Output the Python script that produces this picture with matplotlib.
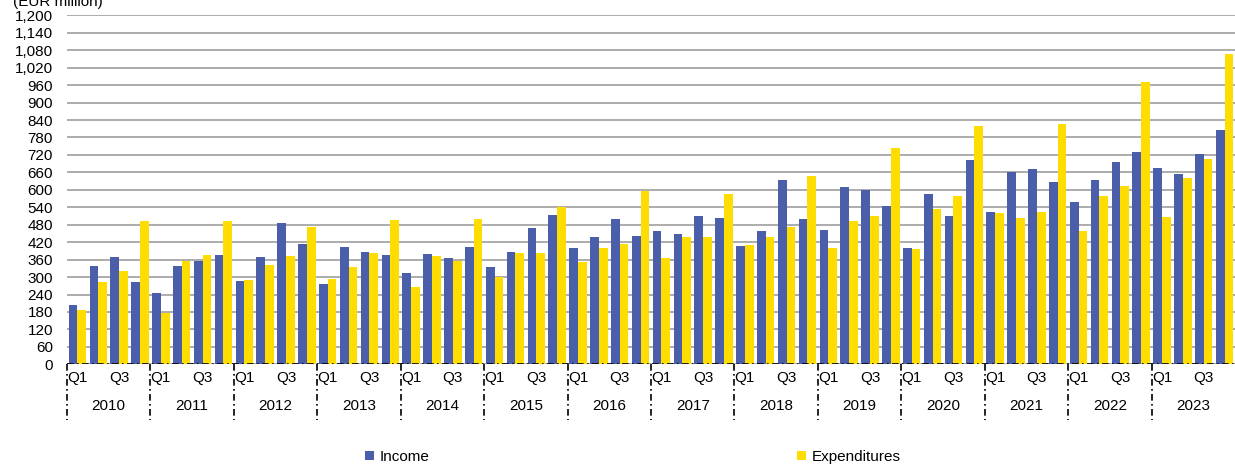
import numpy as np
import matplotlib.pyplot as plt
from matplotlib.patches import Patch

plt.rcParams['font.family'] = ['Liberation Sans', 'DejaVu Sans']

# data (EUR million), quarterly 2010 Q1 .. 2023 Q4
years = [str(y) for y in range(2010, 2024)]
quarter_labels = ['Q1', '', 'Q3', '']

income = [
    203, 338, 369, 283,   # 2010
    244, 338, 356, 376,   # 2011
    288, 368, 485, 414,   # 2012
    276, 402, 387, 375,   # 2013
    313, 378, 364, 402,   # 2014
    334, 385, 468, 512,   # 2015
    399, 439, 499, 442,   # 2016
    457, 447, 509, 502,   # 2017
    407, 460, 634, 499,   # 2018
    463, 609, 599, 543,   # 2019
    401, 587, 511, 701,   # 2020
    523, 660, 672, 626,   # 2021
    557, 634, 697, 730,   # 2022
    674, 654, 722, 806,   # 2023
]
expenditures = [
    187, 284, 322, 492,
    178, 355, 377, 492,
    290, 342, 372, 472,
    293, 336, 383, 496,
    266, 371, 355, 499,
    299, 382, 382, 541,
    352, 399, 413, 595,
    366, 437, 439, 586,
    411, 439, 472, 648,
    400, 493, 510, 744,
    397, 533, 578, 818,
    519, 503, 524, 826,
    458, 578, 613, 970,
    508, 642, 705, 1066,
]

BLUE = "#4b5eaa"
YELLOW = "#ffdd00"
FS = 11

fig = plt.figure(figsize=(12.35, 4.65), dpi=100)
ax = fig.add_axes([67 / 1235, 100.7 / 465, 1 - 67 / 1235, 349 / 465])

x = np.arange(len(income))
w = 0.415
ax.bar(x - w / 2, income, width=w, color=BLUE, zorder=3)
ax.bar(x + w / 2, expenditures, width=w, color=YELLOW, zorder=3)

ax.set_xlim(-0.5, len(income) - 0.5)
ax.set_ylim(0, 1200)
ax.set_yticks(np.arange(0, 1201, 60))
ax.set_yticklabels([f"{v:,}" for v in range(0, 1201, 60)])
ax.yaxis.grid(True, color="#a6a6a6", linewidth=1.3, zorder=0)
ax.set_axisbelow(True)

ax.set_xticks(x)
ax.set_xticklabels(quarter_labels * len(years))
ax.tick_params(axis='both', length=0, labelsize=FS, colors="#000000")
ax.tick_params(axis='y', pad=10)
ax.tick_params(axis='x', pad=5)

for s in ax.spines.values():
    s.set_visible(False)

# dash-dot baseline
ax.axhline(0, color="black", linewidth=1.2, linestyle=(0, (4, 2, 1, 2)), zorder=4)

# year separators and labels
trans = ax.get_xaxis_transform()
for i, yr in enumerate(years):
    left = i * 4 - 0.5
    ax.plot([left, left], [0, -0.16], transform=trans, color="black",
            linewidth=1.2, linestyle=(0, (4, 2, 1, 2)), clip_on=False)
    ax.text(left + 2, -0.119, yr, transform=trans, ha='center', va='center',
            fontsize=FS)

fig.text(13 / 1235, 1 - 2 / 465, "(EUR million)", ha='left', va='center',
         fontsize=FS)

handles = [Patch(facecolor=BLUE, label="Income"),
           Patch(facecolor=YELLOW, label="Expenditures")]
fig.legend(handles=handles, ncol=2, loc='center left',
           bbox_to_anchor=(351 / 1235, 1 - 457 / 465), frameon=False,
           fontsize=FS, handlelength=0.6, handleheight=0.6,
           handletextpad=0.4, columnspacing=24.0)

fig.savefig("out.png", dpi=100)
